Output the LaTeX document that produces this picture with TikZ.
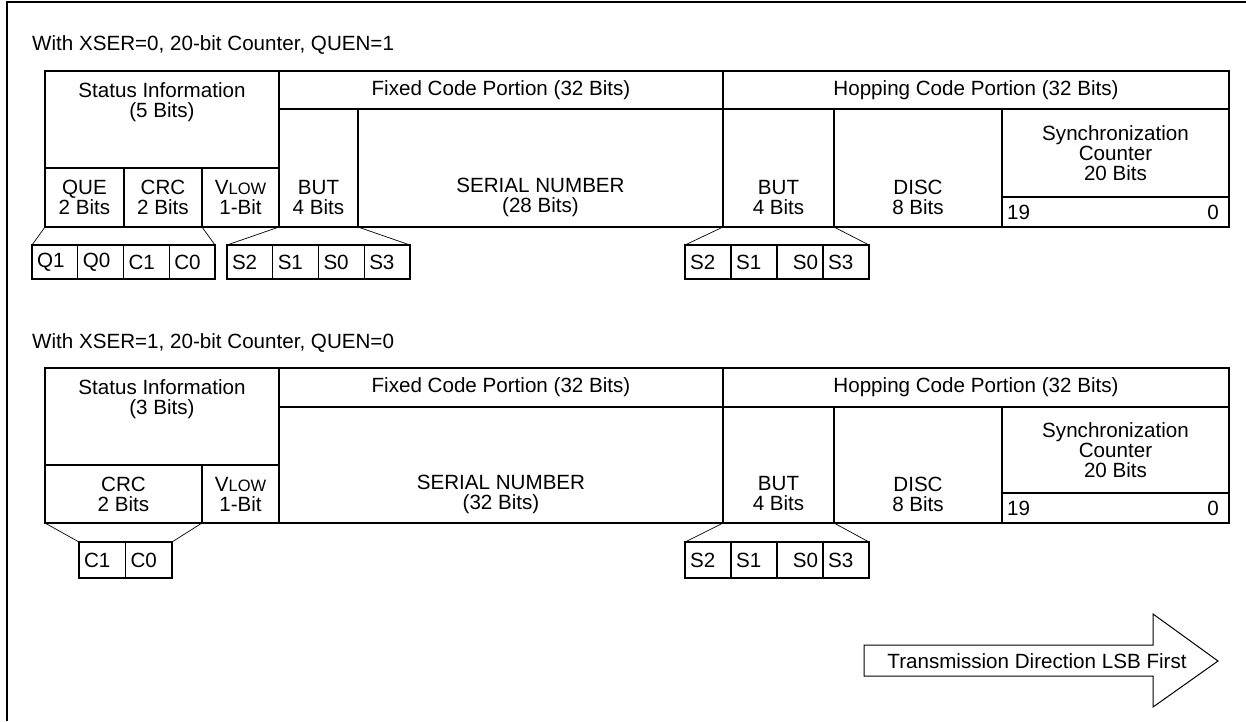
\documentclass[tikz,border=0pt]{standalone}
\usepackage{fontspec}
\setmainfont{Liberation Sans}
\usetikzlibrary{positioning}
\newcommand{\Vlow}{V{\fontsize{16.5}{20}\selectfont LOW}}
\begin{document}
\begin{tikzpicture}[x=1pt, y=-1pt,
    every node/.style={font=\fontsize{20.6}{20}\selectfont},
    campo/.style={draw, line width=1.4pt, outer sep=0pt, inner sep=0pt, anchor=north west, align=center},
    bit/.style={draw, line width=1.4pt, outer sep=0pt, inner xsep=5pt, inner ysep=0pt, text width=35.75pt, align=left, minimum height=34pt},
    testo/.style={inner sep=0pt, align=center},
    obliqua/.style={line width=0.7pt}]
    \useasboundingbox (0,0) rectangle (1246,721);

    % Cornice (solo lati superiore e sinistro)
    \draw[line width=2pt] (1246,1.5) -- (7,1.5) -- (7,721);

    % ===== Primo formato: XSER=0, QUEN=1 =====
    \node[testo, anchor=west] (titoloA) at (32,45) {With XSER=0, 20-bit Counter, QUEN=1};

    % Informazioni di stato
    \node[campo, minimum width=234pt, minimum height=97pt] (statoA) at (45,71) {};
    \node[testo, below=11pt of statoA.north] (tstatoA) {Status Information\\(5 Bits)};
    \node[campo, minimum width=79pt, minimum height=59pt] (queA) at (45,168) {QUE\\2 Bits};
    \node[campo, minimum width=78pt, minimum height=59pt] (crcA) at (124,168) {CRC\\2 Bits};
    \node[campo, minimum width=77pt, minimum height=59pt] (vlowA) at (202,168) {\Vlow\\1-Bit};

    % Parte fissa
    \node[campo, minimum width=444pt, minimum height=38pt] (fissoA) at (279,71) {Fixed Code Portion (32 Bits)};
    \node[campo, minimum width=79pt, minimum height=118pt] (butA) at (279,109) {};
    \node[campo, minimum width=365pt, minimum height=118pt] (serA) at (358,109) {};
    \node[testo] (tbutA) at (butA |- queA) {BUT\\4 Bits};
    \node[testo] (tserA) at (serA |- queA) {SERIAL NUMBER\\(28 Bits)};

    % Parte hopping
    \node[campo, minimum width=506pt, minimum height=38pt] (hopA) at (723,71) {Hopping Code Portion (32 Bits)};
    \node[campo, minimum width=111pt, minimum height=118pt] (butHA) at (723,109) {};
    \node[campo, minimum width=168pt, minimum height=118pt] (discA) at (834,109) {};
    \node[campo, minimum width=227pt, minimum height=88pt] (syncA) at (1002,109) {Synchronization\\Counter\\20 Bits};
    \node[campo, minimum width=227pt, minimum height=30pt] (cntA) at (1002,197) {};
    \node[testo] (tbutHA) at (butHA |- queA) {BUT\\4 Bits};
    \node[testo] (tdiscA) at (discA |- queA) {DISC\\8 Bits};
    \node[testo, anchor=west] (n19A) at ([xshift=5pt]cntA.west) {19};
    \node[testo, anchor=east] (n0A) at ([xshift=-10pt]cntA.east) {0};

    % Dettaglio dei bit
    \node[bit, anchor=north west] (q1A) at (32,245) {Q1};
    \node[bit, right=0pt of q1A] (q0A) {Q0};
    \node[bit, right=0pt of q0A] (c1A) {C1};
    \node[bit, right=0pt of c1A] (c0A) {C0};
    \node[bit, anchor=north west] (s2A) at (227,245) {S2};
    \node[bit, right=0pt of s2A] (s1A) {S1};
    \node[bit, right=0pt of s1A] (s0A) {S0};
    \node[bit, right=0pt of s0A] (s3A) {S3};
    \node[bit, text width=36pt, anchor=north west] (s2HA) at (685,245) {S2};
    \node[bit, text width=36pt, right=0pt of s2HA] (s1HA) {S1};
    \node[bit, text width=36pt, align=right, right=0pt of s1HA] (s0HA) {S0};
    \node[bit, text width=36pt, right=0pt of s0HA] (s3HA) {S3};

    % Linee di espansione
    \draw[obliqua] (queA.south west) -- (q1A.north west);
    \draw[obliqua] (crcA.south east) -- (c0A.north east);
    \draw[obliqua] (butA.south west) -- (s2A.north west);
    \draw[obliqua] (butA.south east) -- (s3A.north east);
    \draw[obliqua] (butHA.south west) -- (s2HA.north west);
    \draw[obliqua] (butHA.south east) -- (s3HA.north east);

    % ===== Secondo formato: XSER=1, QUEN=0 =====
    \node[testo, anchor=west] (titoloB) at (32,343) {With XSER=1, 20-bit Counter, QUEN=0};

    % Informazioni di stato
    \node[campo, minimum width=234pt, minimum height=97pt] (statoB) at (45,368) {};
    \node[testo, below=11pt of statoB.north] (tstatoB) {Status Information\\(3 Bits)};
    \node[campo, minimum width=157pt, minimum height=58pt] (crcB) at (45,465) {CRC\\2 Bits};
    \node[campo, minimum width=77pt, minimum height=58pt] (vlowB) at (202,465) {\Vlow\\1-Bit};

    % Parte fissa
    \node[campo, minimum width=444pt, minimum height=39pt] (fissoB) at (279,368) {Fixed Code Portion (32 Bits)};
    \node[campo, minimum width=444pt, minimum height=116pt] (serB) at (279,407) {};
    \node[testo] (tserB) at (serB |- crcB) {SERIAL NUMBER\\(32 Bits)};

    % Parte hopping
    \node[campo, minimum width=506pt, minimum height=39pt] (hopB) at (723,368) {Hopping Code Portion (32 Bits)};
    \node[campo, minimum width=111pt, minimum height=116pt] (butHB) at (723,407) {};
    \node[campo, minimum width=168pt, minimum height=116pt] (discB) at (834,407) {};
    \node[campo, minimum width=227pt, minimum height=86pt] (syncB) at (1002,407) {Synchronization\\Counter\\20 Bits};
    \node[campo, minimum width=227pt, minimum height=30pt] (cntB) at (1002,493) {};
    \node[testo] (tbutHB) at (butHB |- crcB) {BUT\\4 Bits};
    \node[testo] (tdiscB) at (discB |- crcB) {DISC\\8 Bits};
    \node[testo, anchor=west] (n19B) at ([xshift=5pt]cntB.west) {19};
    \node[testo, anchor=east] (n0B) at ([xshift=-10pt]cntB.east) {0};

    % Dettaglio dei bit
    \node[bit, text width=36.5pt, minimum height=36pt, anchor=north west] (c1B) at (79,542) {C1};
    \node[bit, text width=36.5pt, minimum height=36pt, right=0pt of c1B] (c0B) {C0};
    \node[bit, text width=36pt, minimum height=36pt, anchor=north west] (s2HB) at (685,542) {S2};
    \node[bit, text width=36pt, minimum height=36pt, right=0pt of s2HB] (s1HB) {S1};
    \node[bit, text width=36pt, minimum height=36pt, align=right, right=0pt of s1HB] (s0HB) {S0};
    \node[bit, text width=36pt, minimum height=36pt, right=0pt of s0HB] (s3HB) {S3};

    % Linee di espansione
    \draw[obliqua] (crcB.south west) -- (c1B.north west);
    \draw[obliqua] (crcB.south east) -- (c0B.north east);
    \draw[obliqua] (butHB.south west) -- (s2HB.north west);
    \draw[obliqua] (butHB.south east) -- (s3HB.north east);

    % Freccia della direzione di trasmissione
    \draw[line width=1pt] (864,645) -- (1153,645) -- (1153,614) -- (1218,661)
        -- (1153,707) -- (1153,676) -- (864,676) -- cycle;
    \node[testo] (direzione) at (1037,661) {Transmission Direction LSB First};
\end{tikzpicture}
\end{document}
